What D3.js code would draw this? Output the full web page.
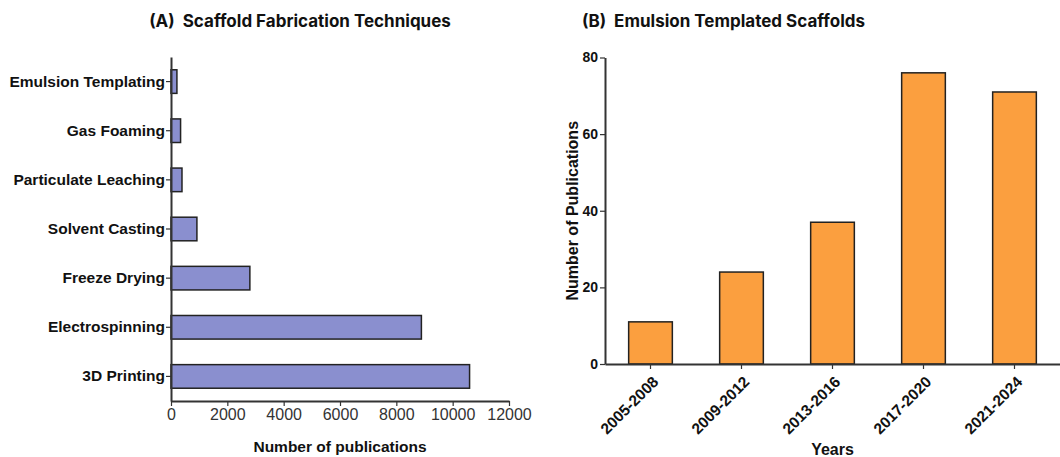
<!DOCTYPE html>
<html>
<head>
<meta charset="utf-8">
<script src="https://cdn.jsdelivr.net/npm/d3@7"></script>
<style>
  body { margin: 0; background: #fff; }
  svg { display: block; }
  .axis text { font-family: "Liberation Sans", Arial, sans-serif; }
</style>
</head>
<body>
<div id="chart"></div>
<script>
// Panel A data
const techniques = ["Emulsion Templating", "Gas Foaming", "Particulate Leaching",
  "Solvent Casting", "Freeze Drying", "Electrospinning", "3D Printing"];
const techCounts = [210, 340, 390, 920, 2800, 8890, 10600];
const techTicks = [0, 2000, 4000, 6000, 8000, 10000, 12000];

// Panel B data
const periods = ["2005-2008", "2009-2012", "2013-2016", "2017-2020", "2021-2024"];
const periodCounts = [11, 24, 37, 76, 71];
const periodTicks = [0, 20, 40, 60, 80];

const W = 1060, H = 457;
const svg = d3.select("#chart").append("svg")
  .attr("width", W).attr("height", H);

const titleFont = "Inter, 'Open Sans', sans-serif";
const labelFont = "'Liberation Sans', Arial, sans-serif";

// ---- Panel A: horizontal bars
const xA = d3.scaleLinear().domain([0, 12000]).range([171, 509]);
const yA = d3.scaleBand().domain(techniques).range([57, 401])
  .paddingInner(0.52).paddingOuter(0.26);

svg.append("g").selectAll("rect")
  .data(techniques)
  .join("rect")
  .attr("x", xA(0))
  .attr("y", d => yA(d))
  .attr("width", (d, i) => xA(techCounts[i]) - xA(0))
  .attr("height", yA.bandwidth())
  .attr("fill", "#8a8fcf")
  .attr("stroke", "#222")
  .attr("stroke-width", 1.5);

const axA_y = svg.append("g").attr("class", "axis")
  .attr("transform", `translate(${xA(0)},0)`)
  .call(d3.axisLeft(yA).tickSize(5).tickSizeOuter(0));
axA_y.select(".domain").attr("stroke", "#333").attr("stroke-width", 2);
axA_y.selectAll(".tick line").attr("stroke", "#333").attr("stroke-width", 1.2);
axA_y.selectAll("text").attr("x", -6)
  .style("font-size", "15.5px").style("font-weight", "bold").attr("fill", "#111");

const axA_x = svg.append("g").attr("class", "axis")
  .attr("transform", `translate(0,${yA.range()[1]})`)
  .call(d3.axisBottom(xA).tickValues(techTicks).tickFormat(d3.format("d"))
    .tickSize(5).tickSizeOuter(0));
axA_x.select(".domain").attr("stroke", "#333").attr("stroke-width", 2);
axA_x.selectAll(".tick line").attr("stroke", "#333").attr("stroke-width", 1.2);
axA_x.selectAll("text").attr("y", 8)
  .style("font-size", "16px").attr("fill", "#333");

svg.append("text")
  .attr("x", (xA.range()[0] + xA.range()[1]) / 2).attr("y", 452)
  .attr("text-anchor", "middle")
  .style("font-family", labelFont).style("font-size", "15.5px").style("font-weight", "bold")
  .attr("fill", "#111")
  .text("Number of publications");

svg.append("text")
  .attr("x", 300).attr("y", 27)
  .attr("text-anchor", "middle")
  .style("font-family", titleFont).style("font-size", "17px").style("font-weight", "bold")
  .attr("fill", "#111")
  .attr("xml:space", "preserve")
  .text("(A)  Scaffold Fabrication Techniques");

// ---- Panel B: vertical bars
const xB = d3.scaleBand().domain(periods).range([605, 1060])
  .paddingInner(0.52).paddingOuter(0.26);
const yB = d3.scaleLinear().domain([0, 80]).range([364, 57.5]);

svg.append("g").selectAll("rect")
  .data(periods)
  .join("rect")
  .attr("x", d => xB(d))
  .attr("y", (d, i) => yB(periodCounts[i]))
  .attr("width", xB.bandwidth())
  .attr("height", (d, i) => yB(0) - yB(periodCounts[i]))
  .attr("fill", "#fb9f3f")
  .attr("stroke", "#222")
  .attr("stroke-width", 1.5);

const axB_y = svg.append("g").attr("class", "axis")
  .attr("transform", `translate(${xB.range()[0]},0)`)
  .call(d3.axisLeft(yB).tickValues(periodTicks).tickSize(5).tickSizeOuter(0));
axB_y.select(".domain").attr("stroke", "#333").attr("stroke-width", 2);
axB_y.selectAll(".tick line").attr("stroke", "#333").attr("stroke-width", 1.2);
axB_y.selectAll("text").attr("x", -7)
  .style("font-size", "14px").style("font-weight", "bold").attr("fill", "#111");

const axB_x = svg.append("g").attr("class", "axis")
  .attr("transform", `translate(0,${yB(0)})`)
  .call(d3.axisBottom(xB).tickSize(5).tickSizeOuter(0));
axB_x.select(".domain").attr("stroke", "#333").attr("stroke-width", 2);
axB_x.selectAll(".tick line").attr("stroke", "#333").attr("stroke-width", 1.2);
axB_x.selectAll("text")
  .attr("text-anchor", "end")
  .attr("dy", "0.35em")
  .attr("transform", "translate(5,15) rotate(-45)")
  .attr("y", 0).attr("x", 0)
  .style("font-size", "15.5px").style("font-weight", "bold").attr("fill", "#111");

svg.append("text")
  .attr("transform", `translate(578,${(yB.range()[0] + yB.range()[1]) / 2}) rotate(-90)`)
  .attr("text-anchor", "middle")
  .style("font-family", labelFont).style("font-size", "16px").style("font-weight", "bold")
  .attr("fill", "#111")
  .text("Number of Publications");

svg.append("text")
  .attr("x", (xB.range()[0] + xB.range()[1]) / 2).attr("y", 455)
  .attr("text-anchor", "middle")
  .style("font-family", labelFont).style("font-size", "16px").style("font-weight", "bold")
  .attr("fill", "#111")
  .text("Years");

svg.append("text")
  .attr("x", 582).attr("y", 27)
  .attr("text-anchor", "start")
  .style("font-family", titleFont).style("font-size", "17px").style("font-weight", "bold")
  .attr("fill", "#111")
  .attr("xml:space", "preserve")
  .text("(B)  Emulsion Templated Scaffolds");
</script>
</body>
</html>
